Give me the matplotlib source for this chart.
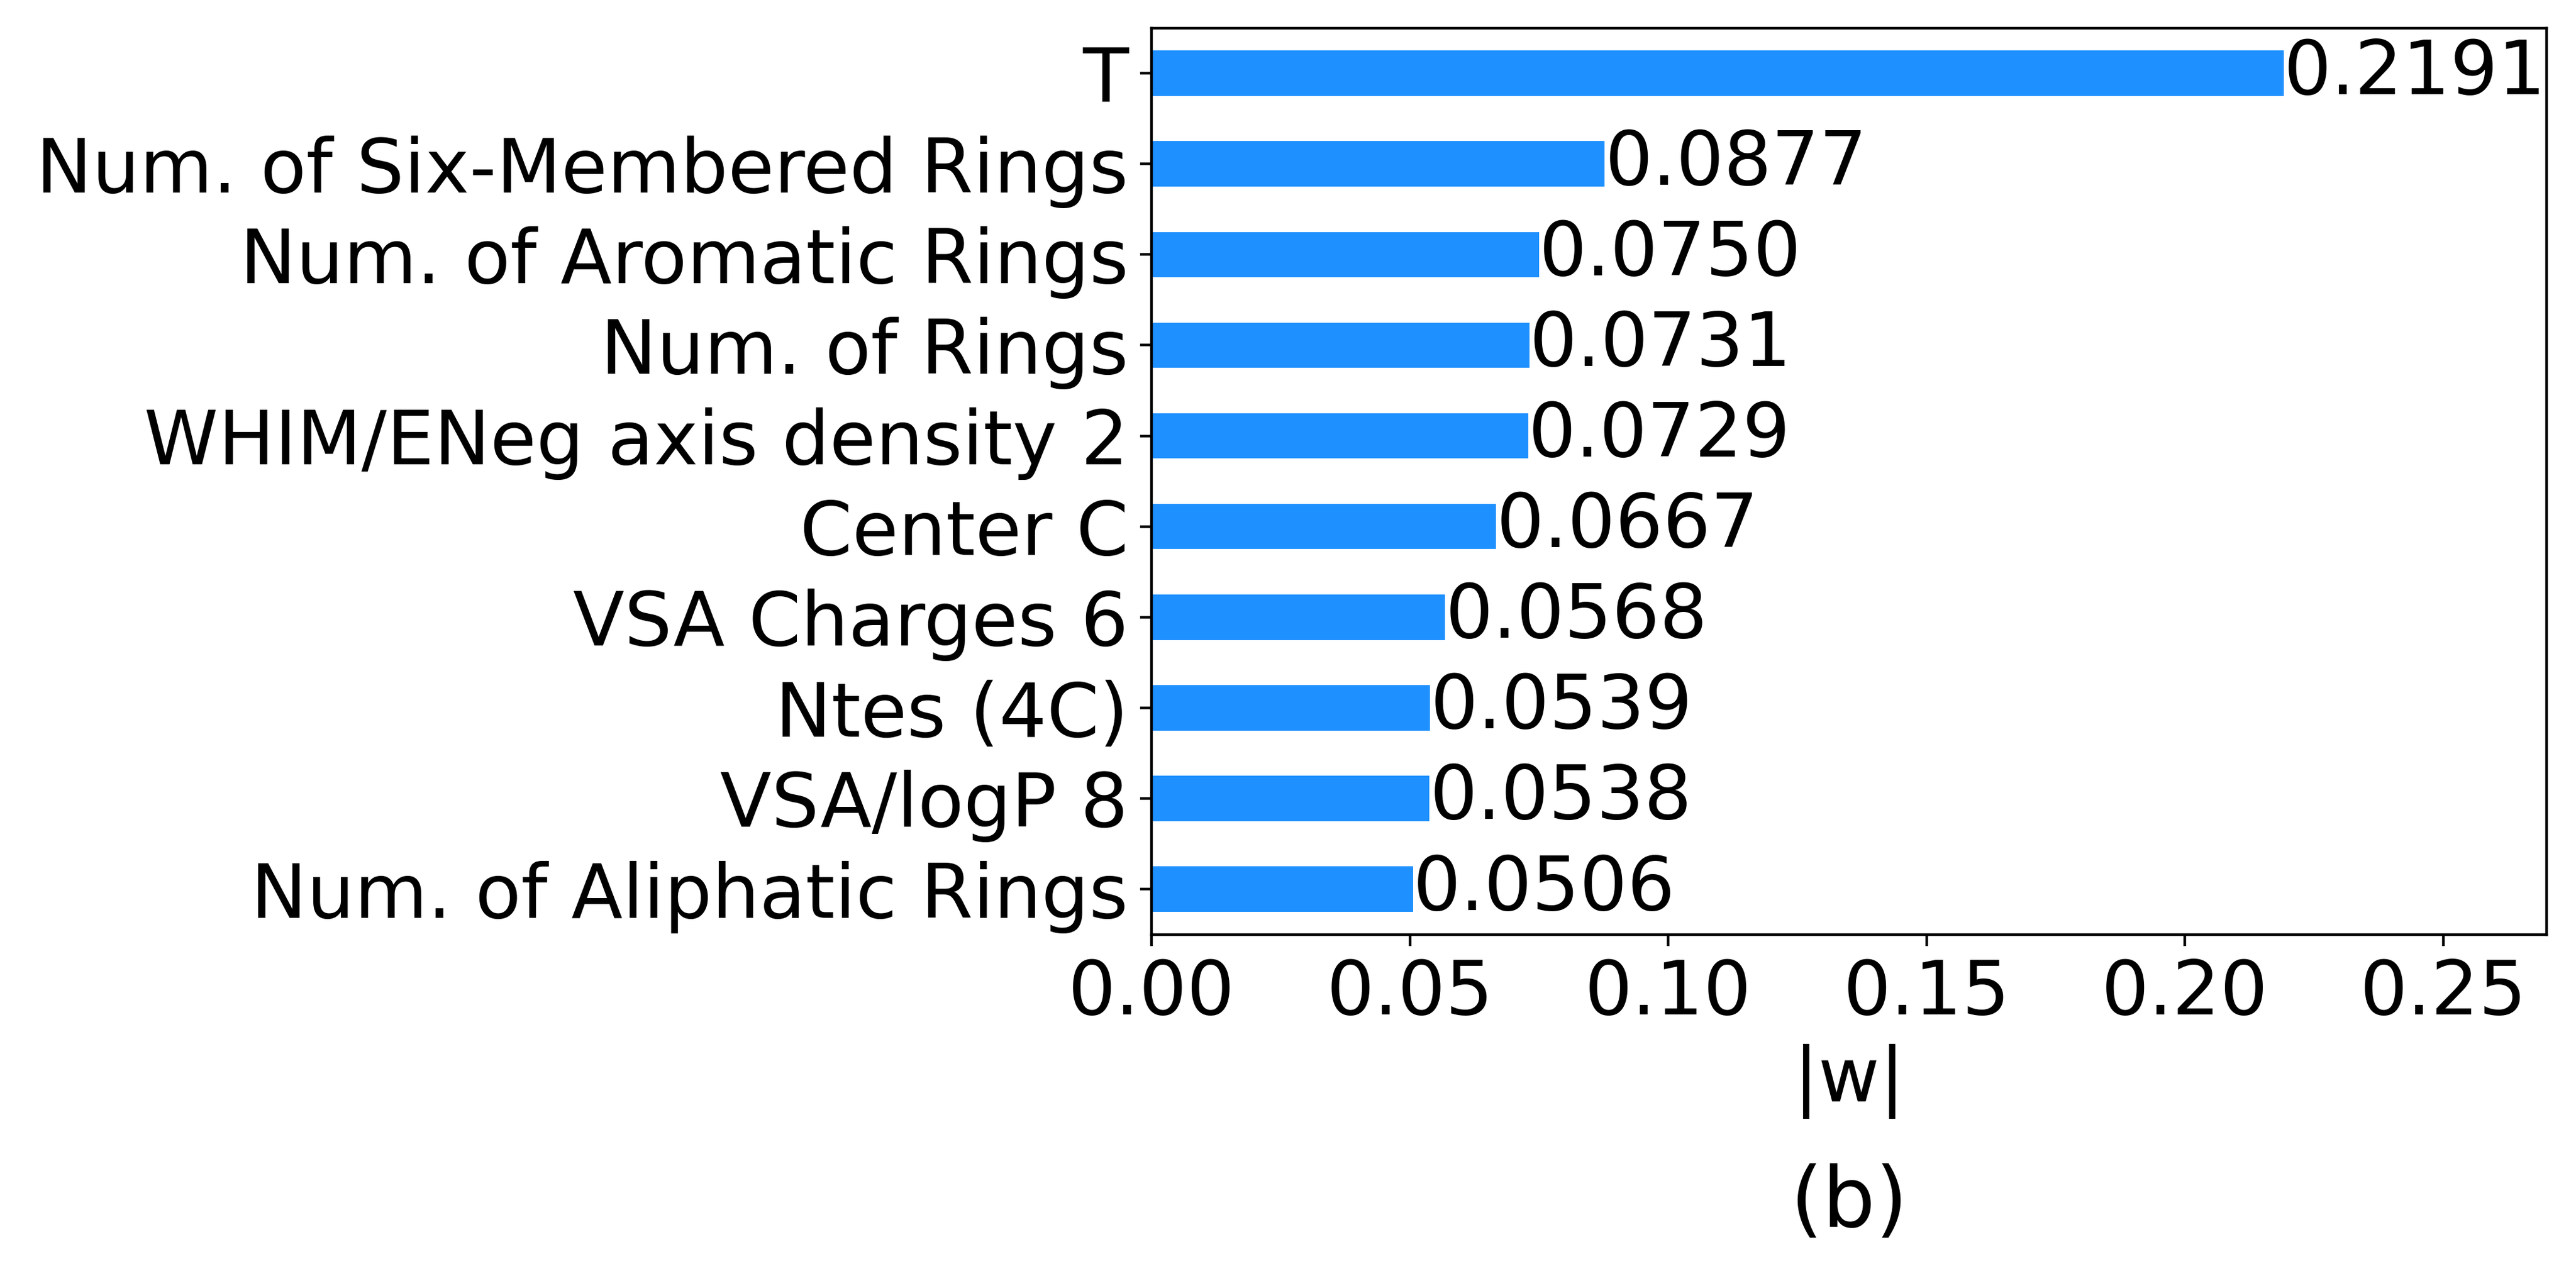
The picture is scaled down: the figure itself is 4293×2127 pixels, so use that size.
import matplotlib
matplotlib.use("Agg")
import matplotlib.pyplot as plt
import numpy as np

features = ["T", "Num. of Six-Membered Rings", "Num. of Aromatic Rings", "Num. of Rings",
            "WHIM/ENeg axis density 2", "Center C", "VSA Charges 6", "Ntes (4C)",
            "VSA/logP 8", "Num. of Aliphatic Rings"]
weights = [0.2191, 0.0877, 0.0750, 0.0731, 0.0729, 0.0667, 0.0568, 0.0539, 0.0538, 0.0506]
xticks = [0.00, 0.05, 0.10, 0.15, 0.20, 0.25]

plt.rcParams['font.family'] = ['DejaVu Sans']
W, H = 4293, 2127
dpi = 400
fs = 22.5
fig = plt.figure(figsize=(W / dpi, H / dpi), dpi=dpi)
ax = fig.add_axes([701 / 1568, 1 - 569 / 777, (1550 - 701) / 1568, (569 - 17) / 777])

y = np.arange(len(features))[::-1]
bars = ax.barh(y, weights, height=0.5, color="#1E90FF")
for yi, w in zip(y, weights):
    ax.text(w, yi, f"{w:.4f}", ha="left", va="center", fontsize=fs)

ax.set_yticks(y)
ax.set_yticklabels(features, fontsize=fs)
ax.set_xticks(xticks)
ax.set_xticklabels([f"{t:.2f}" for t in xticks], fontsize=fs)
ax.set_xlim(0, 0.27)
ax.set_ylim(-0.5, len(features) - 0.5)
ax.set_xlabel("|w|", fontsize=fs)
fig.text(0.5 * (701 + 1550) / 1568, 1 - 733 / 777, "(b)", ha="center", va="center", fontsize=25)

fig.savefig("out.png", dpi=dpi)
